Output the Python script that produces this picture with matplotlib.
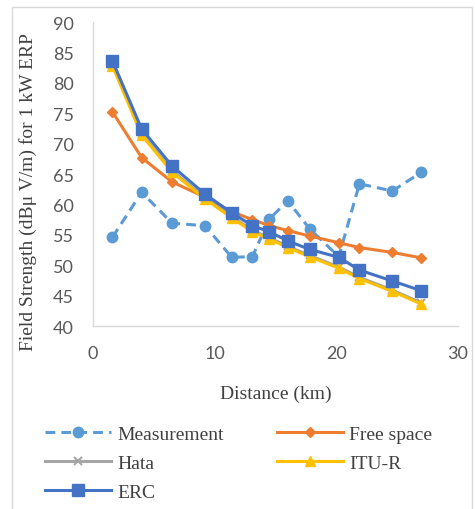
import matplotlib
matplotlib.use("Agg")
import matplotlib.pyplot as plt
from matplotlib.patches import Rectangle

# Distance of each measurement / prediction point (km)
distance_km = [1.6, 4.0, 6.5, 9.2, 11.4, 13.1, 14.5, 16.0, 17.8, 20.2, 21.9, 24.6, 27.0]

# Field strength (dBuV/m for 1 kW ERP)
measurement = [54.6, 62.0, 56.9, 56.5, 51.3, 51.4, 57.6, 60.6, 56.0, 51.4, 63.4, 62.2, 65.3]
free_space = [75.2, 67.7, 63.7, 61.2, 58.8, 57.5, 56.5, 55.7, 54.8, 53.7, 52.9, 52.1, 51.2]
hata = [83.0, 71.6, 65.5, 61.1, 58.0, 55.7, 54.5, 53.1, 51.6, 49.7, 48.0, 45.9, 43.8]
itu_r = [82.8, 71.4, 65.3, 60.9, 57.8, 55.5, 54.3, 52.9, 51.4, 49.5, 47.8, 45.7, 43.6]
erc = [83.6, 72.4, 66.3, 61.7, 58.6, 56.5, 55.5, 54.0, 52.6, 51.3, 49.2, 47.4, 45.8]

x_ticks = [0, 10, 20, 30]
y_ticks = [40, 45, 50, 55, 60, 65, 70, 75, 80, 85, 90]

W, H = 475, 510
fig = plt.figure(figsize=(W / 100, H / 100), dpi=100)

# chart border
fig.patches.append(Rectangle((12 / W, -0.1), (472 - 12) / W, 1.1 - 8 / H,
                             transform=fig.transFigure, fill=False,
                             edgecolor="#D9D9D9", linewidth=1.0))

ax = fig.add_axes([93 / W, 1 - 327 / H, (458 - 93) / W, (327 - 23) / H])

serif = "Liberation Serif"
tick_font = "Lato"

h_meas, = ax.plot(distance_km, measurement, color="#5B9BD5", linewidth=2.2,
                  linestyle=(0, (3.2, 2.0)), marker="o", markersize=7.5,
                  label="Measurement")
h_free, = ax.plot(distance_km, free_space, color="#ED7D31", linewidth=2.2,
                  marker="D", markersize=5.5, label="Free space")
h_hata, = ax.plot(distance_km, hata, color="#A5A5A5", linewidth=2.2,
                  marker="x", markersize=6, markeredgewidth=1.5, label="Hata")
h_itu, = ax.plot(distance_km, itu_r, color="#FFC000", linewidth=2.2,
                 marker="^", markersize=7.5, label="ITU-R")
h_erc, = ax.plot(distance_km, erc, color="#4472C4", linewidth=2.2,
                 marker="s", markersize=8.5, label="ERC")

ax.set_xlim(0, 30)
ax.set_ylim(40, 90)
ax.set_xticks(x_ticks)
ax.set_yticks(y_ticks)
for s in ("top", "right"):
    ax.spines[s].set_visible(False)
for s in ("left", "bottom"):
    ax.spines[s].set_color("#D9D9D9")
    ax.spines[s].set_linewidth(1.0)
ax.tick_params(length=0, pad=14, labelcolor="#595959", labelsize=13)
for lab in ax.get_xticklabels() + ax.get_yticklabels():
    lab.set_fontfamily(tick_font)

ax.set_xlabel("Distance (km)", fontfamily=serif, fontsize=14, color="#404040")
ax.xaxis.set_label_coords(0.5, -(386 - 327) / (327 - 23))
fig.text(28 / W, 1 - 192 / H, "Field Strength (dBμ V/m) for 1 kW ERP",
         rotation=90, ha="center", va="center", fontfamily=serif,
         fontsize=14, color="#404040")

leg = fig.legend(handles=[h_meas, h_hata, h_erc, h_free, h_itu],
                 ncol=2, loc="upper left",
                 bbox_to_anchor=(45 / W, 1 - 426 / H),
                 frameon=False, prop={"family": serif, "size": 14},
                 handlelength=3.4, handletextpad=0.3, columnspacing=2.75,
                 labelspacing=0.6, borderpad=0, borderaxespad=0)
for t in leg.get_texts():
    t.set_color("#404040")

fig.savefig("out.png", dpi=100)
